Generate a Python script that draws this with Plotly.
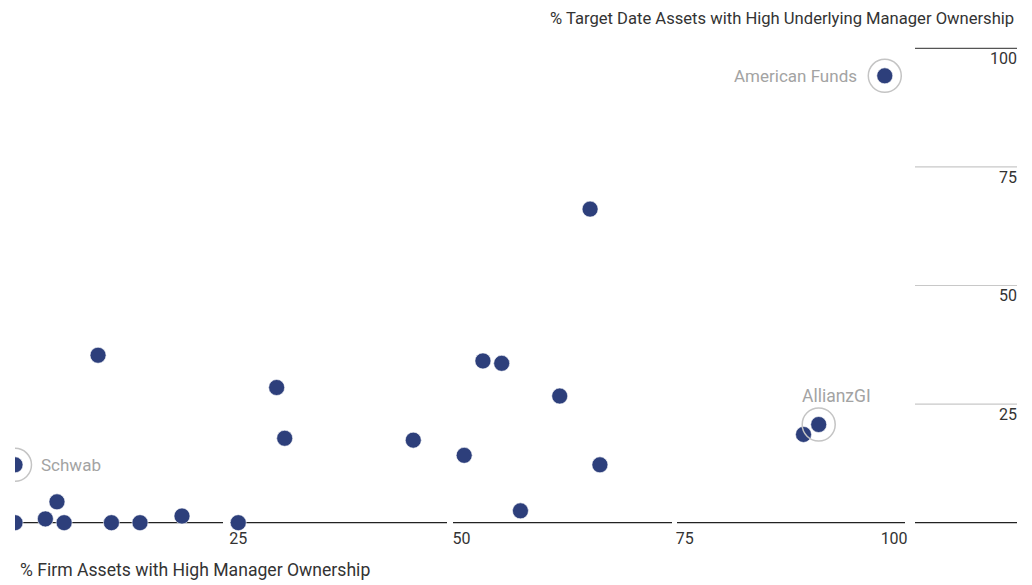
import plotly.graph_objects as go

# Data
firm_assets = [0, 0, 3.4, 4.7, 5.5, 10.8, 14.0, 18.7, 25.0, 9.3, 29.3, 30.2, 44.6,
               50.3, 52.4, 54.5, 56.6, 61.0, 64.4, 65.5, 88.3, 90.0, 97.4]
td_assets = [12.2, 0, 0.8, 4.4, 0, 0, 0, 1.4, 0, 35.3, 28.5, 17.8, 17.4,
             14.2, 34.1, 33.6, 2.5, 26.7, 66.1, 12.2, 18.6, 20.7, 94.2]

highlight_names = ["Schwab", "AllianzGI", "American Funds"]
highlight_x = [0, 90.0, 97.4]
highlight_y = [12.2, 20.7, 94.2]

x_ticks = [25, 50, 75, 100]
x_ticktext = ["25", "50", "75", "100" + "\u00a0" * 7]
y_ticks = [25, 50, 75, 100]
y_ticktext = ["25", "50", "75", "100"]

x_title = "% Firm Assets with High Manager Ownership"
y_title = "% Target Date Assets with High Underlying Manager Ownership"

NAVY = "#2D3F7B"
GRAY_TXT = "#A3A3A3"
RING = "#C4C4C4"
FONT = "Roboto, sans-serif"

W, H = 1032, 585
ml, mr, mt, mb = 15, 12, 40, 35
px_per_x = 8.93
px_per_y = 4.744
plot_w = W - ml - mr
plot_h = H - mt - mb
y0_px = 522.7  # pixel row of y=0
x_max = plot_w / px_per_x
y_min = -((H - mb) - y0_px) / px_per_y
y_max = y_min + plot_h / px_per_y


def px2x(p):
    return (p - ml) / px_per_x


fig = go.Figure()

# baseline segments and right-hand gridlines
shapes = []
for a, b in [(15, 223), (230, 447), (453, 672), (677, 905), (915, 1017)]:
    shapes.append(dict(type="line", xref="x", yref="y", x0=px2x(a), x1=px2x(b),
                       y0=0, y1=0, line=dict(color="#222222", width=1.2), layer="below"))
for v in y_ticks:
    col = "#555555" if v == 100 else "#C8C8C8"
    shapes.append(dict(type="line", xref="x", yref="y", x0=px2x(915), x1=px2x(1017),
                       y0=v, y1=v, line=dict(color=col, width=1.2), layer="below"))

fig.add_trace(go.Scatter(
    x=firm_assets, y=td_assets, mode="markers",
    marker=dict(size=16, color=NAVY, line=dict(color="white", width=0.6)),
    hoverinfo="skip", showlegend=False, cliponaxis=True,
))
fig.add_trace(go.Scatter(
    x=highlight_x, y=highlight_y, mode="markers",
    marker=dict(size=33, symbol="circle-open", color=RING, line=dict(width=1.5)),
    hoverinfo="skip", showlegend=False, cliponaxis=True,
))

annotations = [
    dict(x=highlight_x[0], y=highlight_y[0], xref="x", yref="y", text=highlight_names[0],
         showarrow=False, xanchor="left", yanchor="middle", xshift=24,
         font=dict(size=17, color=GRAY_TXT, family=FONT)),
    dict(x=highlight_x[1], y=highlight_y[1], xref="x", yref="y", text=highlight_names[1],
         showarrow=False, xanchor="center", yanchor="middle", xshift=18, yshift=29,
         font=dict(size=17.5, color=GRAY_TXT, family=FONT)),
    dict(x=highlight_x[2], y=highlight_y[2], xref="x", yref="y", text=highlight_names[2],
         showarrow=False, xanchor="right", yanchor="middle", xshift=-26,
         font=dict(size=17, color=GRAY_TXT, family=FONT)),
    dict(x=px2x(18), y=0, xref="x", yref="paper", text=x_title, showarrow=False,
         xanchor="left", yanchor="middle", yshift=-(570 - (H - mb)),
         font=dict(size=17.6, color="#333333", family=FONT)),
    dict(x=px2x(1016), y=1, xref="x", yref="paper", text=y_title, showarrow=False,
         xanchor="right", yanchor="middle", yshift=(mt - 18),
         font=dict(size=16.6, color="#333333", family=FONT)),
]

fig.update_layout(
    width=W, height=H,
    margin=dict(l=ml, r=mr, t=mt, b=mb),
    paper_bgcolor="white", plot_bgcolor="white",
    shapes=shapes, annotations=annotations,
    font=dict(family=FONT, size=16, color="#333333"),
    xaxis=dict(range=[0, x_max], tickvals=x_ticks, ticktext=x_ticktext,
               showgrid=False, zeroline=False, showline=False, ticks="",
               ticklabelposition="inside", fixedrange=True,
               tickfont=dict(size=16, color="#333333")),
    yaxis=dict(range=[y_min, y_max], tickvals=y_ticks, ticktext=y_ticktext, side="right",
               showgrid=False, zeroline=False, showline=False, ticks="",
               ticklabelposition="inside", ticklabelshift=10, fixedrange=True,
               tickfont=dict(size=16, color="#333333")),
)

fig.write_html("out.html", config={"displayModeBar": False},
               post_script="document.body.style.margin='0';")
